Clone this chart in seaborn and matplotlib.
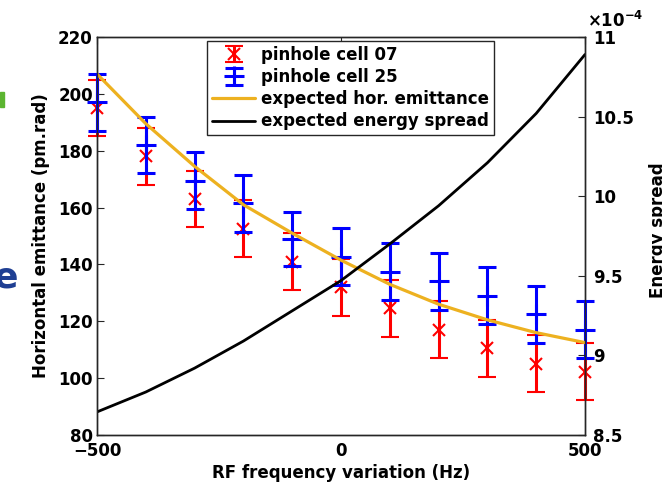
import matplotlib

matplotlib.use("Agg")
import matplotlib.pyplot as plt
import matplotlib.patches as mpatches
import pandas as pd
import seaborn as sns

# RF frequency variation (Hz)
freq = [-500, -400, -300, -200, -100, 0, 100, 200, 300, 400, 500]

# measured horizontal emittance (pm.rad)
cell07 = [195.0, 178.0, 163.0, 152.5, 141.0, 132.0, 124.5, 117.0, 110.5, 105.0, 102.3]
cell07_err = [10, 10, 10, 10, 10, 10, 10, 10, 10, 10, 10]
cell25 = [197.0, 182.0, 169.5, 161.5, 149.0, 142.7, 137.5, 134.0, 129.0, 122.5, 117.0]
cell25_err = [10, 10, 10, 10, 9.6, 10, 10, 10, 10, 10, 10]

# expected curves
expected_emit = [207.0, 189.5, 174.5, 161.0, 151.0, 141.5, 133.0, 126.0, 120.5, 116.0, 112.5]
energy_spread = [8.645e-4, 8.77e-4, 8.92e-4, 9.09e-4, 9.28e-4, 9.47e-4,
                 9.70e-4, 9.94e-4, 10.21e-4, 10.52e-4, 10.89e-4]

sns.set_theme(style="white")
plt.rcParams["font.family"] = ["DejaVu Sans"]
plt.rcParams["font.weight"] = "bold"
plt.rcParams["text.color"] = "black"
plt.rcParams["axes.labelcolor"] = "black"
plt.rcParams["axes.edgecolor"] = "#262626"
plt.rcParams["axes.linewidth"] = 1.0

frame = pd.DataFrame({
    "freq": freq,
    "expected_emit": expected_emit,
    "spread_e4": [v / 1e-4 for v in energy_spread],
})

fig = plt.figure(figsize=(6.62, 4.91), dpi=100)
ax = fig.add_axes([97 / 662, 1 - 435 / 491, 488 / 662, 398 / 491])
ax2 = ax.twinx()

red = "#ff0000"
blue = "#0000ff"
orange = "#edb120"

h07 = ax.errorbar(freq, cell07, yerr=cell07_err, fmt="x", color=red, ecolor=red,
                  elinewidth=2.2, capsize=6.5, capthick=2.2, markersize=9,
                  markeredgewidth=1.5, label="pinhole cell 07", zorder=2)
h25 = ax.errorbar(freq, cell25, yerr=cell25_err, fmt="+", color=blue, ecolor=blue,
                  elinewidth=2.2, capsize=6.5, capthick=2.2, markersize=14,
                  markeredgewidth=2.2, label="pinhole cell 25", zorder=3)
for container in (h07, h25):
    for artist in container.get_children():
        artist.set_clip_on(False)

sns.lineplot(data=frame, x="freq", y="expected_emit", color=orange, linewidth=2.3,
             ax=ax, zorder=4, label="expected hor. emittance", legend=False)
sns.lineplot(data=frame, x="freq", y="spread_e4", color="black", linewidth=2.0,
             ax=ax2, label="expected energy spread", legend=False)

ax.set_xlim(-500, 500)
ax.set_ylim(80, 220)
ax2.set_ylim(8.5, 11)
ax.set_xticks([-500, 0, 500])
ax.set_yticks(range(80, 221, 20))
ax2.set_yticks([8.5, 9, 9.5, 10, 10.5, 11])
ax2.set_yticklabels(["8.5", "9", "9.5", "10", "10.5", "11"])
ax.set_xlabel("")
ax.set_ylabel("")
ax2.set_ylabel("")

ax.tick_params(axis="x", direction="in", top=True, length=5, width=0.8,
               labelsize=12, pad=5, colors="#262626", labelcolor="black")
ax.tick_params(axis="y", direction="in", length=5, width=0.8,
               labelsize=12, pad=3, colors="#262626", labelcolor="black")
ax2.tick_params(axis="y", direction="in", length=5, width=0.8,
                labelsize=12, pad=6, colors="#262626", labelcolor="black")
for label in ax.get_xticklabels() + ax.get_yticklabels() + ax2.get_yticklabels():
    label.set_fontweight("bold")

fig.text(341 / 662, 1 - 473 / 491, "RF frequency variation (Hz)", ha="center",
         va="center", fontsize=12, fontweight="bold")
fig.text(41 / 662, 1 - 236 / 491, "Horizontal emittance (pm.rad)", ha="center",
         va="center", rotation=90, fontsize=12, fontweight="bold")
fig.text(658 / 662, 1 - 230 / 491, "Energy spread", ha="center", va="center",
         rotation=90, fontsize=12, fontweight="bold")
fig.text(587 / 662, 1 - 27 / 491, r"$\times\mathbf{10^{-4}}$", ha="left",
         va="baseline", fontsize=12)

# slide remnants at the left edge of the screenshot
fig.patches.append(mpatches.Rectangle((0, 1 - 107 / 491), 4 / 662, 15 / 491,
                                      transform=fig.transFigure, color="#5cb531"))
fig.text(-6 / 662, 1 - 277 / 491, "e", ha="left", va="center", fontsize=26,
         fontweight="bold", color="#1f3f93")

handles = [h07, h25] + ax.get_lines()[-1:] + ax2.get_lines()[-1:]
labels = ["pinhole cell 07", "pinhole cell 25", "expected hor. emittance",
          "expected energy spread"]
leg = ax2.legend(handles, labels, loc="upper left", bbox_to_anchor=(0.2254, 0.99),
                 borderaxespad=0, fontsize=12, frameon=True, fancybox=False,
                 edgecolor="#262626", framealpha=1, handlelength=2.6,
                 handletextpad=0.35, labelspacing=0.25, borderpad=0.3)
leg.get_frame().set_linewidth(1.0)
for text in leg.get_texts():
    text.set_fontweight("bold")

fig.savefig("out.png", dpi=100, facecolor="white")
